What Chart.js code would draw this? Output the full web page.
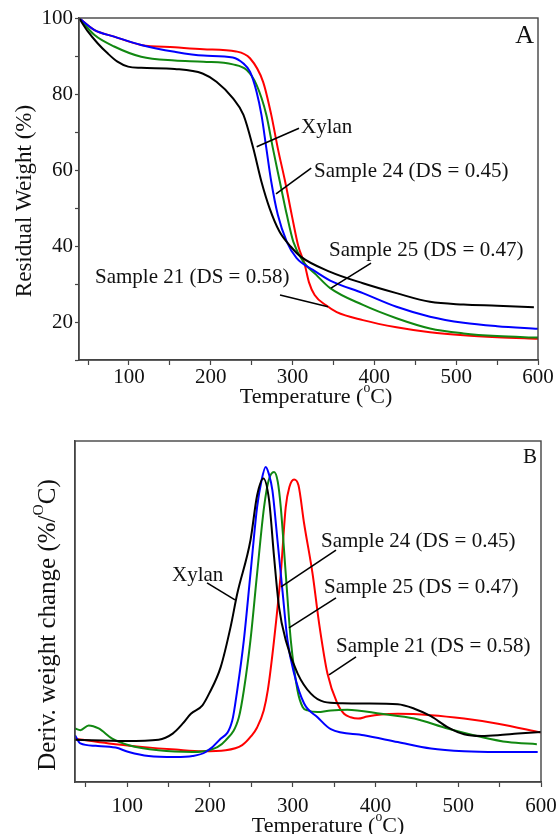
<!DOCTYPE html>
<html>
<head>
<meta charset="utf-8">
<script src="https://cdn.jsdelivr.net/npm/chart.js@4/dist/chart.umd.min.js"></script>
<style>
  body { margin: 0; background: #fff; overflow: hidden; }
  #wrap { position: relative; width: 556px; height: 834px; }
  canvas { position: absolute; left: 0; }
  #chartA { top: 0; }
  #chartB { top: 417px; }
</style>
</head>
<body>
<div id="wrap">
  <canvas id="chartA" width="556" height="417"></canvas>
  <canvas id="chartB" width="556" height="430"></canvas>
</div>
<script>
// series names and colours
const seriesNames = ['Xylan', 'Sample 24 (DS = 0.45)', 'Sample 25 (DS = 0.47)', 'Sample 21 (DS = 0.58)'];
const seriesColors = ['#000000', '#0000ff', '#118811', '#ff0000'];

// panel A: residual weight (%) vs temperature, [T, weight]
const xylanA = [[39,100],[50,96.4],[62,93.3],[74,90.7],[86,88.5],[99,87.2],[115,86.9],[156,86.6],[190,85.4],[207,83.2],[227,78.9],[240,74.5],[252,65.7],[262,56.9],[272,49.9],[284,43.8],[298,39.8],[310,37.2],[346,33.2],[386,30.2],[427,27.6],[468,25.3],[509,24.6],[550,24.3],[595,23.9]];
const s24A = [[39,100],[58,96.8],[82,95.1],[115,92.9],[156,91.1],[191,90.1],[227,89.6],[240,88],[248,85.9],[256,80.6],[262,74.5],[268,65.7],[274,56.9],[282,48.2],[293,41.1],[305,36.8],[325,33.7],[346,30.9],[386,27.6],[427,24],[468,21.4],[509,19.8],[550,18.9],[600,18.2]];
const s25A = [[39,100],[58,95.5],[82,92.5],[115,89.8],[156,88.8],[191,88.5],[227,87.8],[244,86.3],[256,82.4],[268,74.5],[276,65.7],[284.5,56.9],[293,48.2],[301,41.1],[313,35.9],[329,32.4],[346,28.9],[386,24.5],[427,21],[468,18.3],[509,17],[550,16.3],[600,15.9]];
const s21A = [[39,100],[58,96.8],[82,95.1],[115,92.9],[156,92.3],[191,91.8],[231,91.2],[248,89.4],[264,83.2],[274,74.5],[282,65.7],[291,56.9],[299,48.2],[307,40],[315,35],[320,30.5],[327,27.1],[341,24.4],[354,22.6],[386,20.5],[427,18.6],[468,17.3],[509,16.5],[550,16],[600,15.6]];

// panel B: derivative weight change (arbitrary units), [T, value]
const xylanB = [[37,12.4],[98,12],[138,12.4],[155,14.2],[167,17.1],[177,20],[191,22.5],[199,25.9],[213,33.7],[225,45.5],[233,55.2],[249,70.9],[257,84],[264.6,89],[271.5,82.6],[277.5,66],[283.5,51.3],[291.6,41.6],[306,31.8],[322,25.9],[338,23.5],[360,23.1],[386,23],[427,22.8],[447,21.5],[467,19.3],[487,16.1],[507,14],[528,13.5],[548,13.7],[572,14.2],[600,14.7]];
const s24B = [[37,13.7],[43.5,11.3],[62,10.6],[86,10.1],[102,8.8],[126,7.6],[158,7.3],[179,7.6],[195,8.8],[211,12.2],[227,18],[233,26.9],[241,41.6],[249,61.1],[257,80.6],[262,88],[267.4,92.4],[271,90.5],[275.5,85.5],[281.6,70.9],[287.6,56.2],[293.7,41.6],[301.7,31.8],[313.8,23],[330,19],[346,15.5],[386,13.7],[427,11.7],[467,9.8],[507,9],[548,8.8],[596,8.8]];
const s25B = [[37,15.7],[43.5,15.2],[53.5,16.6],[65.6,15.7],[82,12.7],[102,10.8],[138,9.3],[179,8.8],[199,9.3],[219,12.2],[235,19],[241,26.9],[249,41.6],[257,61.1],[265.4,80.6],[271,88.5],[277.5,90.9],[282,88],[285.6,80.6],[291.6,61.1],[297.7,41.6],[305.8,26.9],[312,22],[318,21],[330,20.5],[346,21],[366,21.2],[407,20],[447,18.6],[487,15.7],[528,13.2],[560,11.7],[595,11.1]];
const s21B = [[37,12.7],[78,11.3],[118,10.3],[158.5,9.5],[191,9],[219,9.3],[239,10.8],[250,13.5],[257,16],[265,21],[270,27],[277.5,41.6],[285.6,61.1],[291.6,80.6],[296,86.5],[301.7,88.7],[307,87],[313.8,75.8],[324,61.1],[332,46.4],[342,31.8],[354,23],[362,20],[370,19],[379,18.6],[390,19.2],[407,19.8],[427,20],[467,19.6],[507,18.6],[548,17.1],[600,14.5]];

const SERIF = '"Liberation Serif", "Times New Roman", serif';
const AXIS = '#444';

function toPts(arr) {
  return arr.map(p => ({ x: p[0], y: p[1] }));
}

function makeDatasets(list) {
  return list.map((arr, i) => ({
    label: seriesNames[i],
    data: toPts(arr),
    borderColor: seriesColors[i],
    borderWidth: 2,
    pointRadius: 0,
    fill: false,
    cubicInterpolationMode: 'monotone'
  }));
}

// draws text made of normal and superscript pieces
function richText(ctx, parts, cx, cy, size, rotate) {
  ctx.save();
  ctx.translate(cx, cy);
  if (rotate) ctx.rotate(-Math.PI / 2);
  ctx.fillStyle = '#111';
  ctx.textBaseline = 'middle';
  ctx.textAlign = 'left';
  let total = 0;
  const widths = parts.map(p => {
    ctx.font = (p.sup ? size * 0.62 : size) + 'px ' + SERIF;
    const w = ctx.measureText(p.t).width;
    total += w;
    return w;
  });
  let x = -total / 2;
  parts.forEach((p, i) => {
    ctx.font = (p.sup ? size * 0.62 : size) + 'px ' + SERIF;
    ctx.fillText(p.t, x, p.sup ? -size * 0.38 : 0);
    x += widths[i];
  });
  ctx.restore();
}

// frame, panel letter, titles and the leader-line labels
function decorPlugin(cfg) {
  return {
    id: 'decor',
    afterDraw(chart) {
      const { ctx, chartArea: a, scales } = chart;
      ctx.save();
      ctx.strokeStyle = AXIS;
      ctx.lineWidth = 1.4;
      ctx.strokeRect(a.left, a.top, a.right - a.left, a.bottom - a.top);

      ctx.fillStyle = '#111';
      ctx.font = cfg.letterSize + 'px ' + SERIF;
      ctx.textAlign = 'right';
      ctx.textBaseline = 'alphabetic';
      ctx.fillText(cfg.letter, a.right - 4, a.top + cfg.letterBase);

      ctx.strokeStyle = '#000';
      ctx.lineWidth = 1.6;
      ctx.font = '21px ' + SERIF;
      ctx.textAlign = 'left';
      ctx.textBaseline = 'middle';
      cfg.notes.forEach(n => {
        const sx = v => scales.x.getPixelForValue(v);
        const sy = v => scales.y.getPixelForValue(v);
        ctx.beginPath();
        ctx.moveTo(sx(n.line[0]), sy(n.line[1]));
        ctx.lineTo(sx(n.line[2]), sy(n.line[3]));
        ctx.stroke();
        ctx.fillText(n.text, sx(n.at[0]), sy(n.at[1]));
      });
      ctx.restore();

      richText(ctx, cfg.xTitle.parts, cfg.xTitle.x, cfg.xTitle.y, cfg.xTitle.size, false);
      richText(ctx, cfg.yTitle.parts, cfg.yTitle.x, cfg.yTitle.y, cfg.yTitle.size, true);
    }
  };
}

function xScale(min, height, labelGap) {
  return {
    type: 'linear',
    min: min,
    max: 600,
    border: { display: true, color: AXIS, width: 1.4 },
    grid: { drawOnChartArea: false, drawTicks: true, tickLength: 5, color: AXIS, tickWidth: 1.2 },
    ticks: {
      stepSize: 50,
      includeBounds: false,
      autoSkip: false,
      maxRotation: 0,
      padding: labelGap,
      color: '#111',
      font: { family: SERIF, size: 21 },
      callback: v => (v % 100 === 0 ? String(v) : '')
    },
    afterFit(s) {
      s.height = height;
      s.paddingLeft = 0;
      s.paddingRight = 0;
    }
  };
}

const tempTitle = [{ t: 'Temperature (' }, { t: 'o', sup: true }, { t: 'C)' }];

// ---- panel A ----
new Chart(document.getElementById('chartA'), {
  type: 'line',
  data: { datasets: makeDatasets([xylanA, s24A, s25A, s21A]) },
  options: {
    responsive: false,
    devicePixelRatio: 1,
    animation: false,
    layout: { padding: { top: 18, right: 18, left: 0, bottom: 0 } },
    plugins: { legend: { display: false }, tooltip: { enabled: false } },
    scales: {
      x: xScale(39, 57, 0),
      y: {
        type: 'linear',
        min: 10,
        max: 100,
        border: { display: true, color: AXIS, width: 1.4 },
        grid: { drawOnChartArea: false, drawTicks: true, tickLength: 4, color: AXIS, tickWidth: 1.2 },
        ticks: {
          stepSize: 10,
          autoSkip: false,
          padding: 2,
          color: '#111',
          font: { family: SERIF, size: 21 },
          callback: v => (v % 20 === 0 ? String(v) : '')
        },
        afterFit(s) {
          s.width = 79;
          s.paddingTop = 0;
          s.paddingBottom = 0;
        }
      }
    }
  },
  plugins: [decorPlugin({
    letter: 'A', letterSize: 26, letterBase: 25,
    xTitle: { parts: tempTitle, x: 316, y: 397, size: 22 },
    yTitle: { parts: [{ t: 'Residual Weight (%)' }], x: 25, y: 201, size: 23 },
    notes: [
      { text: 'Xylan', at: [310.3, 71.3], line: [256.2, 66.1, 307.9, 71] },
      { text: 'Sample 24 (DS = 0.45)', at: [326.2, 59.5], line: [279.8, 53.7, 322.8, 60.5] },
      { text: 'Sample 25 (DS = 0.47)', at: [344.5, 38.9], line: [395.9, 35.5, 347, 28.9] },
      { text: 'Sample 21 (DS = 0.58)', at: [58.6, 31.8], line: [284.7, 27.1, 343.3, 24] }
    ]
  })]
});

// ---- panel B ----
new Chart(document.getElementById('chartB'), {
  type: 'line',
  data: { datasets: makeDatasets([xylanB, s24B, s25B, s21B]) },
  options: {
    responsive: false,
    devicePixelRatio: 1,
    animation: false,
    layout: { padding: { top: 24, right: 15, left: 0, bottom: 0 } },
    plugins: { legend: { display: false }, tooltip: { enabled: false } },
    scales: {
      x: xScale(37, 65, 7),
      y: {
        type: 'linear',
        min: 0,
        max: 100,
        border: { display: true, color: AXIS, width: 1.4 },
        grid: { display: false },
        ticks: { display: false },
        afterFit(s) {
          s.width = 75;
          s.paddingTop = 0;
          s.paddingBottom = 0;
        }
      }
    }
  },
  plugins: [decorPlugin({
    letter: 'B', letterSize: 21, letterBase: 22,
    xTitle: { parts: tempTitle, x: 328, y: 409, size: 22 },
    yTitle: { parts: [{ t: 'Deriv. weight change (%/' }, { t: 'O', sup: true }, { t: 'C)' }], x: 48, y: 208, size: 25 },
    notes: [
      { text: 'Xylan', at: [154.2, 60.7], line: [196.5, 58.4, 230.3, 53.4] },
      { text: 'Sample 24 (DS = 0.45)', at: [334.2, 70.4], line: [352.3, 68, 285.9, 57.2] },
      { text: 'Sample 25 (DS = 0.47)', at: [337.8, 56.9], line: [352.3, 54, 295.5, 45.2] },
      { text: 'Sample 21 (DS = 0.58)', at: [352.3, 39.6], line: [376.5, 36.7, 343.9, 31.4] }
    ]
  })]
});
</script>
</body>
</html>
